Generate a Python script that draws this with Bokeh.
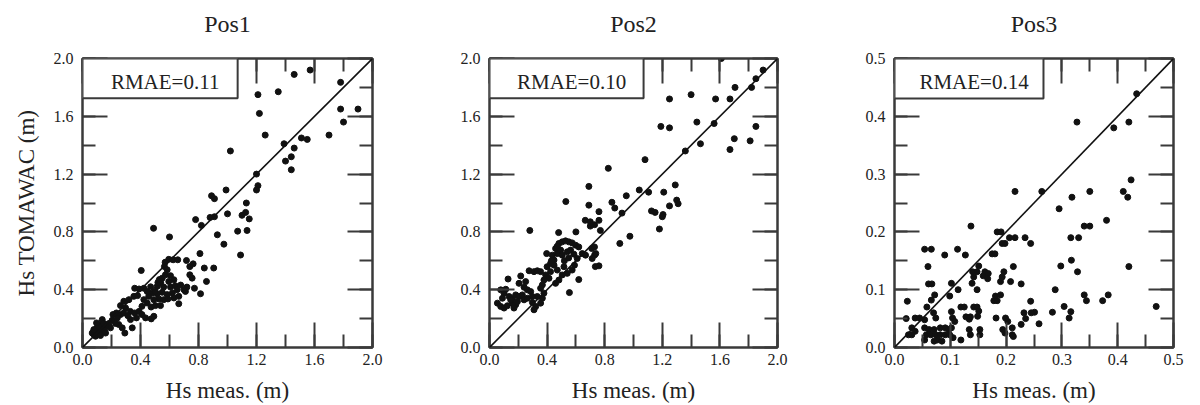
from bokeh.plotting import figure
from bokeh.layouts import row
from bokeh.models import (LinearAxis, Range1d, BoxAnnotation, Label, Slope, CustomLabelingPolicy,
                          SingleIntervalTicker, PrintfTickFormatter, ColumnDataSource)
from bokeh.embed import file_html
from bokeh.resources import INLINE

# ---------------- data ----------------
titles = ["Pos1", "Pos2", "Pos3"]
rmae_text = ["RMAE=0.11", "RMAE=0.10", "RMAE=0.14"]
axis_max = [2.0, 2.0, 0.5]
major_step = [0.4, 0.4, 0.1]
x_label = "Hs meas. (m)"
y_label = "Hs TOMAWAC (m)"

pos1_x = [1.46, 1.57, 1.78, 1.21, 1.35, 1.22, 1.78, 1.90, 1.80, 1.26, 1.70, 1.51, 1.55, 1.39, 1.46,
          1.02, 1.40, 1.44, 1.44, 1.20, 1.21, 1.20, 0.99, 0.89, 0.91, 1.13, 1.00, 1.10, 1.125, 1.15,
          0.88, 0.91, 0.78, 0.82, 1.135, 1.07, 0.49, 0.93, 0.60, 0.975, 1.09, 0.81,
          0.405, 0.595, 0.625, 0.657, 0.717, 0.763, 0.74, 0.84, 0.905, 0.74, 0.756, 0.855, 0.814,
          0.772, 0.72, 0.71, 0.664, 0.565, 0.584, 0.572, 0.55, 0.607, 0.63, 0.595, 0.54, 0.515,
          0.56, 0.607, 0.64, 0.653, 0.62, 0.584, 0.55, 0.515, 0.48, 0.457, 0.492, 0.527, 0.56,
          0.589, 0.63, 0.664, 0.446, 0.473, 0.503, 0.538, 0.423, 0.41, 0.39, 0.36, 0.423, 0.446,
          0.354, 0.38, 0.32, 0.285, 0.262, 0.297, 0.33, 0.36, 0.39, 0.41, 0.435, 0.474, 0.492,
          0.234, 0.21, 0.262, 0.285, 0.313, 0.25, 0.274, 0.292, 0.343, 0.205, 0.182, 0.193,
          0.159, 0.136, 0.124, 0.10, 0.09, 0.078, 0.113, 0.136, 0.152, 0.067, 0.09, 0.124,
          0.159, 0.113, 0.147, 0.078, 0.097, 0.228, 0.24, 0.331, 0.372, 0.677, 0.70, 0.57,
          0.52, 0.47, 0.50, 0.53]
pos1_y = [1.89, 1.92, 1.835, 1.75, 1.77, 1.62, 1.65, 1.65, 1.56, 1.47, 1.47, 1.45, 1.44, 1.41, 1.38,
          1.36, 1.29, 1.32, 1.23, 1.20, 1.12, 1.09, 1.09, 1.05, 1.03, 1.00, 0.925, 0.915, 0.935, 0.89,
          0.90, 0.905, 0.885, 0.845, 0.81, 0.805, 0.825, 0.78, 0.765, 0.715, 0.64, 0.65,
          0.533, 0.61, 0.607, 0.607, 0.602, 0.579, 0.56, 0.55, 0.55, 0.503, 0.48, 0.457, 0.372,
          0.41, 0.418, 0.388, 0.303, 0.56, 0.538, 0.503, 0.48, 0.497, 0.469, 0.457, 0.446, 0.423,
          0.418, 0.418, 0.428, 0.40, 0.377, 0.366, 0.382, 0.372, 0.377, 0.354, 0.331, 0.336, 0.331,
          0.336, 0.343, 0.354, 0.308, 0.28, 0.29, 0.29, 0.331, 0.285, 0.405, 0.41, 0.41, 0.388,
          0.354, 0.359, 0.331, 0.32, 0.29, 0.274, 0.25, 0.239, 0.25, 0.228, 0.205, 0.198, 0.216,
          0.239, 0.228, 0.228, 0.239, 0.22, 0.159, 0.136, 0.10, 0.136, 0.189, 0.166, 0.136,
          0.147, 0.193, 0.159, 0.136, 0.113, 0.09, 0.10, 0.12, 0.12, 0.10, 0.078, 0.083,
          0.10, 0.147, 0.166, 0.124, 0.17, 0.166, 0.205, 0.193, 0.205, 0.432, 0.40, 0.59,
          0.45, 0.42, 0.39, 0.47]

pos2_x = [1.61, 1.90, 1.85, 1.82, 1.705, 1.25, 1.40, 1.57, 1.67, 1.19, 1.25, 1.44, 1.56, 1.85, 1.70,
          1.67, 1.81, 1.465, 1.36, 1.08, 1.04, 1.105, 1.21, 1.29, 1.30, 1.31, 1.25, 1.125, 1.15,
          1.205, 1.20, 1.18, 0.975,
          0.825, 0.69, 0.69, 0.85, 0.87, 0.95, 0.76, 0.665, 0.70, 0.73, 0.76, 0.77, 0.70, 0.905,
          0.53, 0.28, 0.48, 0.60, 0.71, 0.73, 0.76, 0.735, 0.62, 0.555, 0.92,
          0.397, 0.482, 0.505, 0.528, 0.551, 0.574, 0.598, 0.62, 0.459, 0.494, 0.471, 0.436, 0.505,
          0.54, 0.563, 0.586, 0.609, 0.644, 0.667, 0.729, 0.738, 0.713, 0.59, 0.574, 0.54, 0.448,
          0.424, 0.40, 0.448, 0.471, 0.424, 0.39, 0.413, 0.378, 0.367, 0.517, 0.505, 0.482, 0.459,
          0.355, 0.378, 0.367, 0.332, 0.355, 0.321, 0.309, 0.275, 0.309, 0.332, 0.355, 0.251, 0.24,
          0.129, 0.217, 0.205, 0.078, 0.113, 0.101, 0.09, 0.136, 0.159, 0.182, 0.205, 0.228, 0.263,
          0.286, 0.298, 0.055, 0.078, 0.101, 0.124, 0.159, 0.182, 0.194, 0.24, 0.263, 0.298, 0.17,
          0.147, 0.43, 0.52, 0.47, 0.55]
pos2_y = [2.00, 1.92, 1.86, 1.80, 1.80, 1.72, 1.75, 1.72, 1.72, 1.53, 1.52, 1.56, 1.55, 1.53, 1.445,
          1.37, 1.43, 1.41, 1.36, 1.30, 1.09, 1.075, 1.075, 1.125, 1.02, 0.995, 0.98, 0.945, 0.935,
          0.92, 0.905, 0.82, 0.77,
          1.24, 1.115, 0.985, 1.005, 0.965, 1.05, 0.94, 0.88, 0.87, 0.85, 0.88, 0.81, 0.84, 0.72,
          1.01, 0.81, 0.795, 0.80, 0.685, 0.64, 0.565, 0.56, 0.47, 0.38, 0.93,
          0.65, 0.72, 0.731, 0.738, 0.731, 0.724, 0.708, 0.696, 0.685, 0.674, 0.65, 0.639, 0.639,
          0.662, 0.674, 0.646, 0.616, 0.65, 0.639, 0.696, 0.65, 0.616, 0.57, 0.536, 0.513, 0.605,
          0.582, 0.559, 0.57, 0.536, 0.525, 0.502, 0.479, 0.467, 0.433, 0.559, 0.502, 0.467, 0.444,
          0.41, 0.376, 0.341, 0.353, 0.307, 0.284, 0.261, 0.531, 0.525, 0.531, 0.525, 0.456, 0.417,
          0.474, 0.495, 0.444, 0.399, 0.403, 0.376, 0.341, 0.353, 0.341, 0.364, 0.353, 0.364, 0.399,
          0.387, 0.353, 0.307, 0.284, 0.273, 0.289, 0.307, 0.296, 0.318, 0.33, 0.341, 0.312, 0.273,
          0.33, 0.60, 0.60, 0.70, 0.62]

pos3_x = [0.434, 0.327, 0.393, 0.42, 0.424, 0.41, 0.418, 0.35, 0.318, 0.295, 0.264, 0.216, 0.38,
          0.34, 0.35, 0.316, 0.33, 0.298, 0.317, 0.328, 0.288, 0.34, 0.344, 0.383, 0.373, 0.469,
          0.304, 0.316, 0.313, 0.283, 0.259, 0.251, 0.42,
          0.234, 0.244, 0.216, 0.206, 0.184, 0.191, 0.193, 0.198, 0.137, 0.113, 0.127, 0.09, 0.054,
          0.066, 0.06, 0.061, 0.067, 0.023, 0.021, 0.213, 0.227, 0.244, 0.232, 0.235, 0.227, 0.245,
          0.151, 0.175, 0.18, 0.162, 0.159, 0.168, 0.167, 0.14, 0.148, 0.142, 0.196, 0.193, 0.19,
          0.208, 0.102, 0.114, 0.139, 0.148, 0.072, 0.066, 0.099, 0.178, 0.184, 0.181, 0.19, 0.142,
          0.148, 0.151, 0.119, 0.125, 0.102, 0.058, 0.07, 0.074, 0.037, 0.045, 0.054, 0.128, 0.134,
          0.136, 0.104, 0.108, 0.149, 0.182, 0.199, 0.203, 0.211, 0.031, 0.037, 0.025, 0.031, 0.054,
          0.062, 0.071, 0.082, 0.091, 0.097, 0.102, 0.057, 0.065, 0.074, 0.082, 0.091, 0.054, 0.071,
          0.077, 0.085, 0.119, 0.134, 0.136, 0.153, 0.153, 0.194, 0.198, 0.211, 0.213, 0.099, 0.105]
pos3_y = [0.439, 0.39, 0.38, 0.39, 0.29, 0.27, 0.26, 0.27, 0.26, 0.24, 0.27, 0.27, 0.22,
          0.21, 0.21, 0.19, 0.19, 0.141, 0.151, 0.131, 0.10, 0.091, 0.081, 0.091, 0.081, 0.071,
          0.071, 0.062, 0.051, 0.061, 0.041, 0.061, 0.14,
          0.19, 0.18, 0.19, 0.19, 0.20, 0.20, 0.18, 0.18, 0.21, 0.17, 0.16, 0.16, 0.17,
          0.17, 0.14, 0.11, 0.11, 0.08, 0.05, 0.14, 0.11, 0.08, 0.06, 0.05, 0.04, 0.06,
          0.141, 0.162, 0.162, 0.131, 0.124, 0.128, 0.119, 0.131, 0.131, 0.122, 0.131, 0.122, 0.114,
          0.114, 0.111, 0.100, 0.111, 0.10, 0.091, 0.082, 0.089, 0.081, 0.081, 0.089, 0.091, 0.07,
          0.07, 0.063, 0.07, 0.07, 0.062, 0.07, 0.06, 0.051, 0.051, 0.051, 0.048, 0.053, 0.049,
          0.053, 0.051, 0.045, 0.054, 0.051, 0.051, 0.045, 0.034, 0.034, 0.028, 0.022, 0.022, 0.034,
          0.031, 0.031, 0.034, 0.034, 0.031, 0.034, 0.022, 0.022, 0.022, 0.022, 0.022, 0.013, 0.011,
          0.013, 0.011, 0.013, 0.031, 0.022, 0.031, 0.022, 0.031, 0.025, 0.022, 0.019, 0.022, 0.017]

all_x = [pos1_x, pos2_x, pos3_x]
all_y = [pos1_y, pos2_y, pos3_y]

# ---------------- style ----------------
FONT = "Liberation Serif"
INK = "#222222"
TICK = "#3a3a3a"
FIG_H = 405
BORDER_TOP = 57
BORDER_BOTTOM = FIG_H - BORDER_TOP - 291
# (figure width, left border, right border, box right, box bottom)
panel_geom = [(400, 82, 28, 1.07, 1.725), (400, 89, 22, 1.07, 1.725), (396, 94, 10, 0.267, 0.431)]

NO_LABELS = """
try {
  const n = indices.size;
  for (let i = 0; i < n; i++) { indices.unset(i); }
} catch (e) {}
return indices;
"""


def style_axis(ax, step, visible_labels):
    ax.ticker = SingleIntervalTicker(interval=step, num_minor_ticks=2)
    ax.major_tick_in = 25
    ax.major_tick_out = 0
    ax.minor_tick_in = 13
    ax.minor_tick_out = 0
    ax.major_tick_line_color = TICK
    ax.minor_tick_line_color = TICK
    ax.major_tick_line_width = 2
    ax.minor_tick_line_width = 2
    ax.axis_line_color = TICK
    ax.axis_line_width = 2
    ax.formatter = PrintfTickFormatter(format="%.1f")
    ax.major_label_text_font = FONT
    ax.major_label_text_font_size = "16px"
    ax.major_label_text_color = INK
    if visible_labels:
        ax.axis_label_text_font = FONT
        ax.axis_label_text_font_size = "23px"
        ax.axis_label_text_font_style = "normal"
        ax.axis_label_text_color = INK
    else:
        ax.major_label_policy = CustomLabelingPolicy(code=NO_LABELS)
        ax.major_label_standoff = 0


figs = []
for i in range(3):
    w, bl, br, box_r, box_b = panel_geom[i]
    vmax = axis_max[i]
    p = figure(width=w, height=FIG_H, x_range=Range1d(0, vmax), y_range=Range1d(0, vmax),
               output_backend="svg", toolbar_location=None,
               min_border_left=bl, min_border_right=br,
               min_border_top=BORDER_TOP, min_border_bottom=BORDER_BOTTOM)
    p.grid.visible = False
    p.outline_line_color = TICK
    p.outline_line_width = 2
    p.background_fill_color = "white"
    p.border_fill_color = "white"

    p.title.text = titles[i]
    p.title.align = "center"
    p.title.text_font = FONT
    p.title.text_font_size = "24px"
    p.title.text_font_style = "normal"
    p.title.text_color = INK
    p.title.standoff = 16

    xa = p.xaxis[0]
    ya = p.yaxis[0]
    style_axis(xa, major_step[i], True)
    style_axis(ya, major_step[i], True)
    xa.axis_label = x_label
    xa.major_label_standoff = 6
    xa.axis_label_standoff = 10
    ya.major_label_standoff = 9
    if i == 0:
        ya.axis_label = y_label
        ya.axis_label_standoff = 12

    top = LinearAxis()
    right = LinearAxis()
    style_axis(top, major_step[i], False)
    style_axis(right, major_step[i], False)
    p.add_layout(top, "above")
    p.add_layout(right, "right")

    p.add_layout(Slope(gradient=1, y_intercept=0, line_color="#111111", line_width=1.6))

    src = ColumnDataSource(data=dict(x=all_x[i], y=all_y[i]))
    p.scatter("x", "y", source=src, size=6, marker="circle",
              fill_color="#111111", line_color="#111111")

    p.add_layout(BoxAnnotation(left=0, right=box_r, bottom=box_b, top=vmax,
                               fill_color="white", fill_alpha=1.0,
                               line_color=TICK, line_width=2, line_alpha=1.0))
    p.add_layout(Label(x=vmax * 0.285, y=vmax * 0.92, text=rmae_text[i],
                       text_font=FONT, text_font_size="21px", text_color=INK,
                       text_align="center", text_baseline="middle"))
    figs.append(p)

layout = row(*figs)
open("out.html", "w").write(file_html(layout, INLINE))
